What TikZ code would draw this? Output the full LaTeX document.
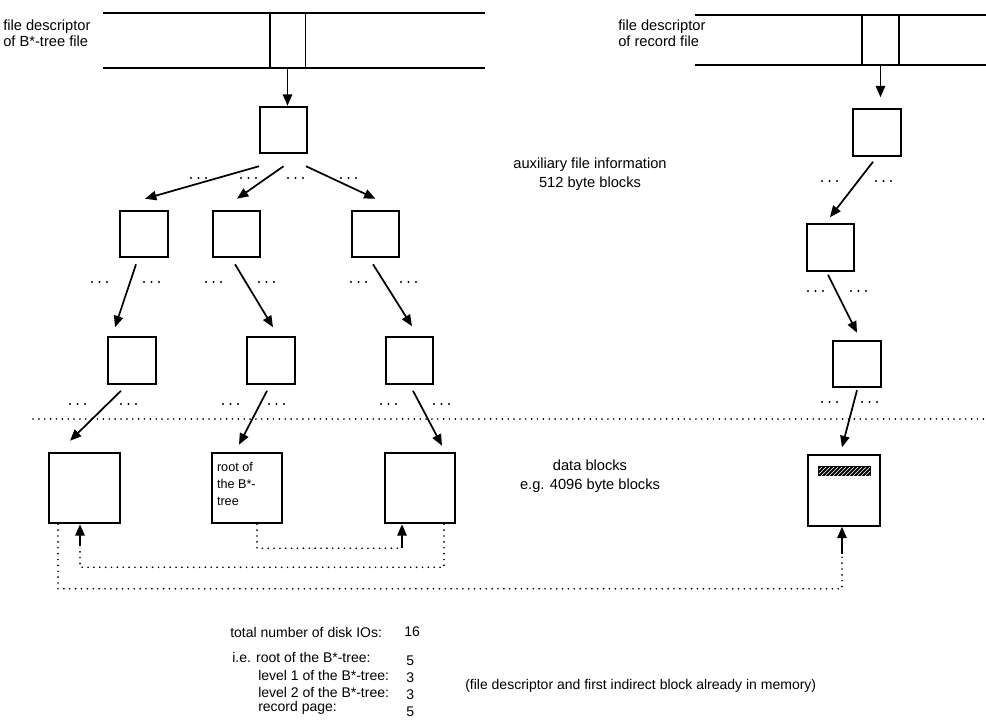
\documentclass[tikz,border=0pt]{standalone}
\usepackage{fontspec}
\setmainfont{Liberation Sans}
\usetikzlibrary{arrows.meta,calc,patterns}
\newcommand{\tdots}[2]{\foreach \k in {0,1,2}{\fill (#1+\k*7.5,#2) circle[radius=1.2];}}
\begin{document}
\begin{tikzpicture}[x=0.75pt,y=-0.75pt,
  blk/.style={draw,line width=1.4pt,inner sep=0pt,minimum width=35.5pt,minimum height=35pt},
  dblk/.style={draw,line width=1.4pt,inner sep=0pt,minimum width=53pt,minimum height=53pt},
  cell/.style={draw,line width=1pt,inner sep=0pt,minimum width=26.5pt,minimum height=41.5pt},
  arr/.style={line width=1.3pt,-{Triangle[length=8.5pt,width=7pt]}},
  dotl/.style={line width=1.4pt,dash pattern=on 0pt off 4.4pt,line cap=round},
  txt/.style={font=\fontsize{11}{12}\selectfont,inner sep=0pt,align=left},
  btxt/.style={font=\fontsize{10.5}{12}\selectfont,inner sep=0pt,anchor=west},
  ctxt/.style={font=\fontsize{11}{14}\selectfont,inner sep=0pt,align=center}]
\useasboundingbox (0,0) rectangle (986,725);

% file descriptors
\draw[line width=1pt] (103,13) -- (485,13) (103,68) -- (485,68);
\node[cell] (cL) at (287.5,40.5) {};
\draw[line width=1pt] (695,15) -- (986,15) (695,65) -- (986,65);
\node[cell,minimum height=37.5pt,minimum width=27.75pt] (cR) at (880.5,40) {};
\node[txt,anchor=west] (tL) at (3,33) {file descriptor\\of B*-tree file};
\node[txt,anchor=west] (tR) at (618,33) {file descriptor\\of record file};

% blocks left tree
\node[blk] (root) at (283.5,130) {};
\node[blk] (l1a) at (144,234) {};
\node[blk] (l1b) at (236.5,234) {};
\node[blk] (l1c) at (375.5,234) {};
\node[blk] (l2a) at (132,360.5) {};
\node[blk] (l2b) at (271,360.5) {};
\node[blk] (l2c) at (409.5,360.5) {};
\node[dblk] (d1) at (84.5,488) {};
\node[dblk] (d2) at (247,488) {};
\node[dblk] (d3) at (420,488) {};
\node[txt,anchor=north west,font=\fontsize{9.5}{13}\selectfont] (rt) at ($(d2.north west)+(6,10)$) {root of\\the B*-\\tree};

% right chain
\node[blk] (r0) at (877,132.5) {};
\node[blk] (r1) at (830.5,247.5) {};
\node[blk] (r2) at (857,364) {};
\node[dblk,minimum width=54pt] (d4) at (844,490.5) {};
\fill (818,466) rectangle (871,476);
\fill[pattern=north east lines,pattern color=white] (819,467) rectangle (870,475);

% arrows
\draw[arr] (cL.south) -- (cL.south |- root.north);
\draw[arr] (cR.south) -- ($(cR.south |- r0.north)+(0,-11)$);
\draw[arr] ($(root.south west)+(0,12)$) -- ($(l1a.north)+(1,-11)$);
\draw[arr] ($(root.south)+(0,12)$) -- ($(l1b.north)+(0.5,-11)$);
\draw[arr] ($(root.south east)+(-2,12)$) -- ($(l1c.north)+(0,-11)$);
\draw[arr] ($(l1a.south)+(-8,6)$) -- ($(l2a.north)+(-17,-9)$);
\draw[arr] ($(l1b.south)+(-1.5,6)$) -- ($(l2b.north)+(2,-9)$);
\draw[arr] ($(l1c.south)+(-2.5,6)$) -- ($(l2c.north)+(2.5,-10)$);
\draw[arr] ($(l2a.south)+(-11,6)$) -- ($(d1.north)+(-14.5,-11)$);
\draw[arr] ($(l2b.south)+(-4,6)$) -- ($(d2.north)+(-8,-7)$);
\draw[arr] ($(l2c.south)+(3.5,6)$) -- ($(d3.north)+(22,-6)$);
\draw[arr] ($(r0.south)+(-4,5)$) -- ($(r1.north)+(-0.5,-6)$);
\draw[arr] ($(r1.south)+(-2.5,3)$) -- ($(r2.north)+(0,-7)$);
\draw[arr] ($(r2.south)+(0,2)$) -- ($(d4.north)+(-2,-7)$);

% ellipses
\tdots{191}{178}\tdots{241}{178}\tdots{288}{178}\tdots{341}{178}
\tdots{92}{282}\tdots{144}{282}\tdots{206}{282}\tdots{259}{282}\tdots{351}{282}\tdots{401}{282}
\tdots{70}{404}\tdots{121}{404}\tdots{223}{404}\tdots{269}{404}\tdots{381}{404}\tdots{434}{404}
\tdots{822}{181}\tdots{876}{181}
\tdots{808}{291}\tdots{851}{291}
\tdots{822}{402}\tdots{862}{402}

% separator
\draw[dotl] (33,419) -- (986,419);

% dotted connectors
\coordinate (p1) at ($(d3.south)+(-18,24)$);
\draw[dotl] ($(d2.south)+(10,0)$) |- (p1);
\draw[arr] (p1) -- ($(d3.south)+(-18,0)$);
\coordinate (p2) at ($(d1.south)+(-4.5,22)$);
\draw[dotl] ($(d3.south)+(24,0)$) |- ($(d1.south)+(-4.5,43)$) -- (p2);
\draw[arr] (p2) -- ($(d1.south)+(-4.5,0)$);
\coordinate (p3) at ($(d4.south)+(-2,27)$);
\draw[dotl] ($(d1.south)+(-26.5,0)$) |- ($(d4.south)+(-2,62)$) -- (p3);
\draw[arr] (p3) -- ($(d4.south)+(-2,0)$);

% labels
\node[ctxt] (aux) at (590,174) {auxiliary file information\\512 byte blocks};
\node[ctxt] (dat) at (590,476) {data blocks\\e.g. 4096 byte blocks};

\node[btxt] (tot) at (230,632) {total number of disk IOs:};
\node[btxt] (n16) at (404,632) {16};
\node[btxt] (ie) at (232,657) {i.e. root of the B*-tree:};
\node[btxt] (lv1) at (258,675) {level 1 of the B*-tree:};
\node[btxt] (lv2) at (258,692) {level 2 of the B*-tree:};
\node[btxt] (rec) at (258,708) {record page:};
\node[btxt] (n1) at (406,661) {5};
\node[btxt] (n2) at (406,678) {3};
\node[btxt] (n3) at (406,695) {3};
\node[btxt] (n4) at (406,712) {5};
\node[btxt] (mem) at (465,686) {(file descriptor and first indirect block already in memory)};
\end{tikzpicture}
\end{document}
